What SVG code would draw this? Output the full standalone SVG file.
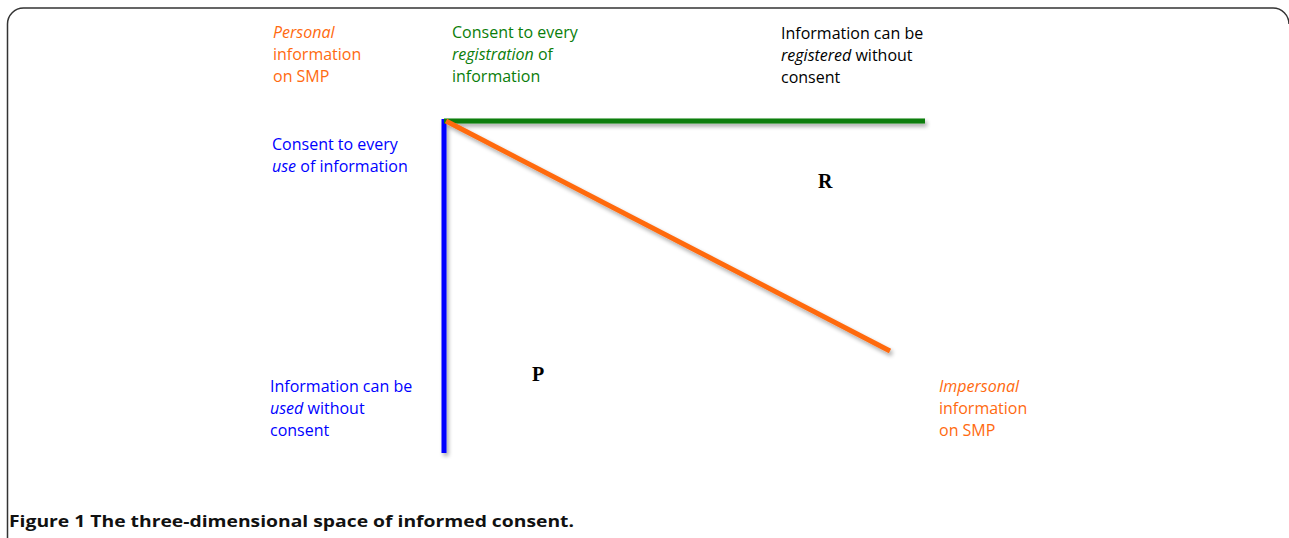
<svg xmlns="http://www.w3.org/2000/svg" width="1289" height="538" viewBox="0 0 1289 538">
<defs>
<filter id="sh" x="-10%" y="-10%" width="130%" height="130%">
<feGaussianBlur in="SourceAlpha" stdDeviation="2"/>
<feOffset dx="2" dy="3" result="b"/>
<feComponentTransfer><feFuncA type="linear" slope="0.35"/></feComponentTransfer>
<feMerge><feMergeNode/><feMergeNode in="SourceGraphic"/></feMerge>
</filter>
<style>
text{font-family:"Open Sans","Liberation Sans",sans-serif;font-size:16px}
.o{fill:#FF6A10}.g{fill:#0A7D0A}.k{fill:#000}.b{fill:#0000FF}
.i{font-style:italic}
.L{font-family:"Liberation Serif",serif;font-weight:bold;font-size:20px;fill:#000}
.ax{stroke-width:5;fill:none}
</style>
</defs>
<rect width="1289" height="538" fill="#fff"/>
<path d="M7.5,538 V24 A16,16 0 0 1 23.5,8 H1273 A16,16 0 0 1 1289,24" fill="none" stroke="#333" stroke-width="1.5"/>
<g id="connectors" filter="url(#sh)">
<line class="ax" x1="444" y1="119" x2="444" y2="453" stroke="#0000FF"/>
<line class="ax" x1="444" y1="121" x2="925" y2="121" stroke="#0A7D0A"/>
<line class="ax" x1="446" y1="121" x2="890" y2="351" stroke="#FF6A10"/>
</g>
<g id="personal">
<text x="273" y="38" class="o"><tspan class="i">Personal</tspan><tspan x="273" y="60">information</tspan><tspan x="273" y="82">on SMP</tspan></text>
</g>
<g id="consent-registration">
<text x="452" y="38" class="g">Consent to every<tspan x="452" y="60" class="i">registration</tspan> of<tspan x="452" y="82">information</tspan></text>
</g>
<g id="registered-without">
<text x="781" y="39" class="k">Information can be<tspan x="781" y="61" class="i">registered</tspan> without<tspan x="781" y="83">consent</tspan></text>
</g>
<g id="consent-use">
<text x="272" y="150" class="b">Consent to every<tspan x="272" y="172" class="i">use</tspan> of information</text>
</g>
<g id="used-without">
<text x="270" y="392" class="b">Information can be<tspan x="270" y="414" class="i">used</tspan> without<tspan x="270" y="436">consent</tspan></text>
</g>
<g id="impersonal">
<text x="939" y="392" class="o"><tspan class="i">Impersonal</tspan><tspan x="939" y="414">information</tspan><tspan x="939" y="436">on SMP</tspan></text>
</g>
<g id="R"><text x="818" y="188" class="L">R</text></g>
<g id="P"><text x="532" y="381" class="L">P</text></g>
<text x="9" y="527" style="font-family:'Open Sans','Liberation Sans',sans-serif;font-weight:bold;font-size:16px;fill:#111" textLength="565" lengthAdjust="spacingAndGlyphs">Figure 1 The three-dimensional space of informed consent.</text>
</svg>
